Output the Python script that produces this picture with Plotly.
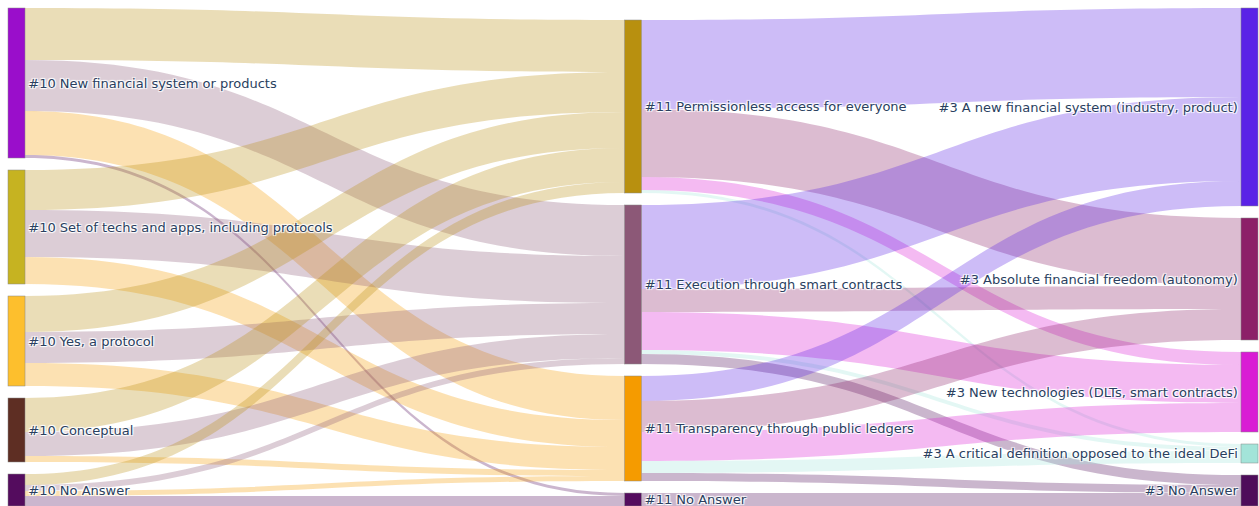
import plotly.graph_objects as go

labels = [
    "#10 New financial system or products",
    "#10 Set of techs and apps, including protocols",
    "#10 Yes, a protocol",
    "#10 Conceptual",
    "#10 No Answer",
    "#11 Permissionless access for everyone",
    "#11 Execution through smart contracts",
    "#11 Transparency through public ledgers",
    "#11 No Answer",
    "#3 A new financial system (industry, product)",
    "#3 Absolute financial freedom (autonomy)",
    "#3 New technologies (DLTs, smart contracts)",
    "#3 A critical definition opposed to the ideal DeFi",
    "#3 No Answer",
]
columns = [[0, 1, 2, 3, 4], [5, 6, 7, 8], [9, 10, 11, 12, 13]]

node_colors = [
    "#9A0ECB", "#C6B321", "#FDBF2D", "#5E2E23", "#540C5E",
    "#B8900F", "#8C5877", "#F59B00", "#540C5E",
    "#5A22E6", "#8C2068", "#D91CD4", "#A3E4D9", "#4E0C5A",
]

# links question #10 -> #11
src_a = [0, 0, 0, 0, 1, 1, 1, 2, 2, 2, 3, 3, 3, 4, 4, 4, 4]
tgt_a = [5, 6, 7, 8, 5, 6, 7, 5, 6, 7, 5, 6, 7, 5, 6, 7, 8]
val_a = [52, 51, 44, 3, 40, 47, 27, 36, 31, 23, 34, 24, 6, 11, 6, 5, 10]

# links question #11 -> #3
src_b = [5, 5, 5, 5, 6, 6, 6, 6, 6, 7, 7, 7, 7, 7, 8]
tgt_b = [9, 10, 11, 12, 9, 10, 11, 12, 13, 9, 10, 11, 12, 13, 13]
val_b = [89, 68, 13, 3, 84, 23, 38, 4, 10, 25, 31, 29, 12, 8, 13]

sources = src_a + src_b
targets = tgt_a + tgt_b
values = val_a + val_b


def rgba(hex_color, alpha):
    h = hex_color.lstrip("#")
    r, g, b = int(h[0:2], 16), int(h[2:4], 16), int(h[4:6], 16)
    return f"rgba({r},{g},{b},{alpha})"


link_colors = [rgba(node_colors[t], 0.3) for t in targets]

# ---- layout geometry (kept separate from the data) ----
FIG_W, FIG_H = 1259, 506
M_L, M_R, M_T, M_B = 8, 1, 8, 0
W_PLOT, H_PLOT = FIG_W - M_L - M_R, FIG_H - M_T - M_B
PAD, THICK = 12, 17

# node totals (max of in/out flow), as the library does
n_nodes = len(labels)
inflow = [0] * n_nodes
outflow = [0] * n_nodes
for s, t, v in zip(sources, targets, values):
    outflow[s] += v
    inflow[t] += v
node_val = [max(i, o) for i, o in zip(inflow, outflow)]

ky = min((H_PLOT - (len(c) - 1) * PAD) / sum(node_val[n] for n in c) for c in columns)

node_x = [0.0] * n_nodes
node_y = [0.0] * n_nodes
xs = [THICK / 2 / W_PLOT, 0.5, 1 - THICK / 2 / W_PLOT]
for ci, col in enumerate(columns):
    # stack nodes of each column bottom-aligned
    total = sum(node_val[n] for n in col) * ky + (len(col) - 1) * PAD
    y = H_PLOT - total
    for n in col:
        h = node_val[n] * ky
        node_x[n] = xs[ci]
        node_y[n] = max((y + h / 2) / H_PLOT, 1e-4)
        y += h + PAD

fig = go.Figure(
    go.Sankey(
        arrangement="fixed",
        node=dict(
            label=labels,
            color=node_colors,
            pad=PAD,
            thickness=THICK,
            x=node_x,
            y=node_y,
            line=dict(color="#888", width=0.5),
        ),
        link=dict(source=sources, target=targets, value=values, color=link_colors),
        textfont=dict(family="DejaVu Sans", size=13, color="#2a3f5f"),
    )
)

fig.update_layout(
    width=FIG_W,
    height=FIG_H,
    margin=dict(l=M_L, r=M_R, t=M_T, b=M_B),
    paper_bgcolor="white",
)

fig.write_html(
    "out.html",
    config={"displayModeBar": False},
    post_script="document.body.style.margin='0';document.body.style.overflow='hidden';",
)
